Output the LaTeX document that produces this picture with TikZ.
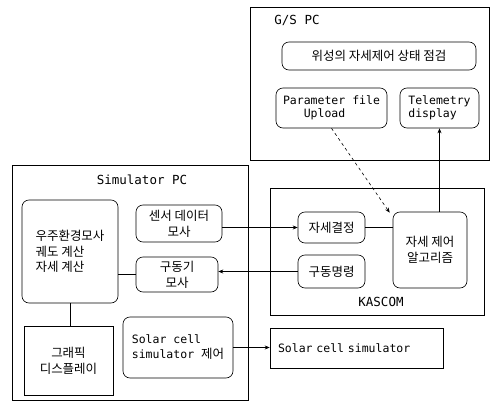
\documentclass[tikz,border=0pt]{standalone}
\usepackage{fontspec}
\setmainfont{DejaVu Sans Mono}
\newfontfamily\kr{Noto Sans CJK KR}
\usetikzlibrary{arrows.meta}
\begin{document}
\begin{tikzpicture}[x=1pt,y=-1pt,line width=0.6pt,
  rbox/.style={draw,rounded corners=7pt,inner sep=0pt},
  sbox/.style={draw,inner sep=0pt},
  kt/.style={font=\kr\fontsize{12.5}{16}\selectfont,align=center},
  lt/.style={font=\fontsize{11.5}{13.5}\selectfont,align=left},
  ttl/.style={font=\fontsize{12.5}{14}\selectfont},
  arr/.style={-{Stealth[length=5pt,width=4pt]}}]
\useasboundingbox (0,0) rectangle (491,407);
% frames
\node[sbox,minimum width=239,minimum height=153] (gs) at (369.5,83.5) {};
\node[sbox,minimum width=236,minimum height=235] (sim) at (130,282.5) {};
\node[sbox,minimum width=214,minimum height=127] (kas) at (377,251.5) {};
% titles
\node[ttl] (gst) at (297,20) {G/S PC};
\node[ttl] (simt) at (142,180) {Simulator PC};
\node[ttl] (kast) at (381,302) {KASCOM};
% G/S PC
\node[rbox,kt,minimum width=194,minimum height=28] (stat) at (379,56) {위성의 자세제어 상태 점검};
\node[rbox,lt,minimum width=111,minimum height=40] (param) at (331.5,108) {Parameter file\\\phantom{Par}Upload};
\node[rbox,lt,minimum width=79,minimum height=40] (tele) at (439.5,108) {Telemetry\\display};
% Simulator PC
\node[rbox,font=\kr\fontsize{12.5}{15.5}\selectfont,align=left,minimum width=96,minimum height=103] (big) at (70,251.5) {우주환경모사\\궤도 계산\\자세 계산};
\node[rbox,kt,minimum width=86,minimum height=37] (sensor) at (179,223.5) {센서 데이터\\모사};
\node[rbox,kt,minimum width=82,minimum height=35] (actsim) at (177,274.5) {구동기\\모사};
\node[sbox,kt,minimum width=89,minimum height=69] (disp) at (68.5,360.5) {그래픽\\디스플레이};
\node[rbox,font=\fontsize{11.5}{15}\selectfont,align=left,minimum width=110,minimum height=61] (solctl) at (178,347.5) {Solar cell\\simulator {\kr\fontsize{12.5}{15}\selectfont 제어}};
% KASCOM
\node[rbox,kt,minimum width=67,minimum height=31] (det) at (331.5,227.5) {자세결정};
\node[rbox,kt,minimum width=67,minimum height=33] (cmd) at (331.5,271.5) {구동명령};
\node[rbox,kt,minimum width=74,minimum height=76] (algo) at (430,250) {자세 제어\\알고리즘};
% solar cell simulator
\node[sbox,lt,text width=157,minimum width=173,minimum height=40] (solsim) at (356.5,348) {Solar cell simulator};
% connectors
\draw[arr] (sensor.east |- det.west) -- (det.west);
\draw (det.east) -- (det.east -| algo.west);
\draw[arr] (cmd.west) -- (cmd.west -| actsim.east);
\draw (big.east |- actsim.west) -- (actsim.west);
\draw (big.south) -- (big.south |- disp.north);
\draw[arr] (algo.north -| tele.south) -- (tele.south);
\draw[arr,dashed] (param.south) -- ([xshift=-3pt,yshift=-1pt]algo.north west);
\draw[arr] (solctl.east) -- (solctl.east -| solsim.west);
\end{tikzpicture}
\end{document}
